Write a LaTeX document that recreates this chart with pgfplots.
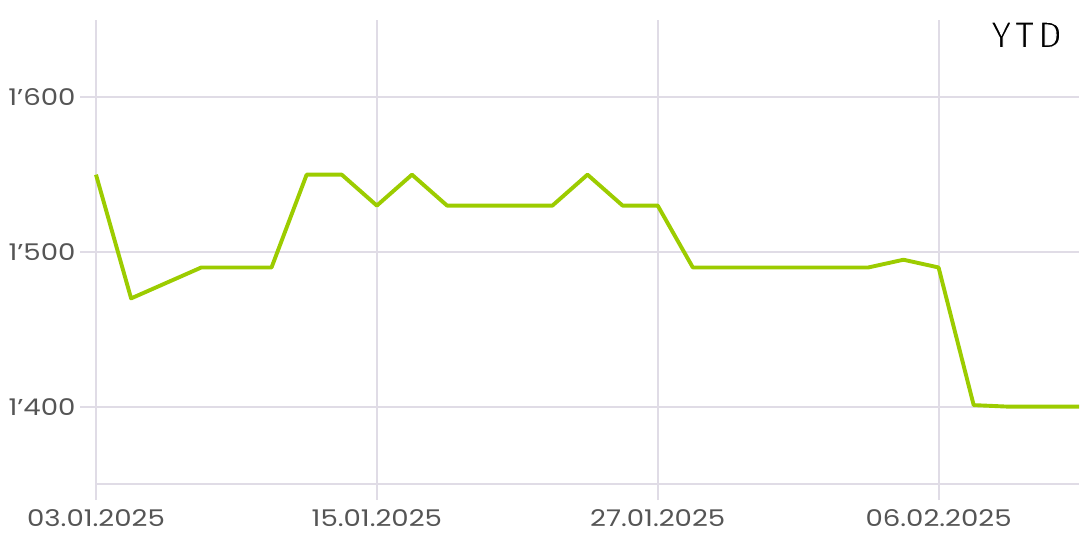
\documentclass[border=0pt]{standalone}
\usepackage{pgfplots}
\pgfplotsset{compat=1.18}
\usepackage{fontspec}
\setmainfont[FakeStretch=1.2]{Poppins}
\newfontfamily\ytdfont[LetterSpace=10]{Fira Sans}
\definecolor{lime}{HTML}{9CCC00}
\definecolor{gridc}{HTML}{E0DCE6}
\definecolor{labc}{HTML}{555555}
\begin{document}
\begin{tikzpicture}
\begin{axis}[
    at={(0,0)}, anchor=south west,
    scale only axis,
    width=983pt, height=464pt,
    xmin=0, xmax=28,
    ymin=1350, ymax=1650,
    axis lines*=left,
    axis line style={gridc, line width=2pt, -},
    xtick={0,8,16,24},
    xticklabels={03.01.2025, 15.01.2025, 27.01.2025, 06.02.2025},
    ytick={1400,1500,1600},
    xtick pos=bottom, ytick pos=left,
    grid=major,
    major grid style={gridc, line width=2pt},
    xtick align=outside, ytick align=outside,
    major tick length=16pt,
    major tick style={draw=gridc, line width=2pt},
    /pgf/number format/assume math mode=true,
    /pgf/number format/1000 sep={'},
    tick label style={font=\fontsize{23}{26}\selectfont, text=labc},
    yticklabel style={xshift=-1pt},
    xticklabel style={yshift=-6pt},
    clip=false,
]
\addplot[lime, line width=3.9pt, line join=round] coordinates {
(0,1550) (1,1470) (2,1480) (3,1490) (4,1490) (5,1490) (6,1550) (7,1550)
(8,1530) (9,1550) (10,1530) (11,1530) (12,1530) (13,1530) (14,1550)
(15,1530) (16,1530) (17,1490) (18,1490) (19,1490) (20,1490) (21,1490)
(22,1490) (23,1495) (24,1490) (25,1401) (26,1400) (27,1400) (28,1400)
};
\node[anchor=north east, inner sep=0pt, font=\ytdfont\fontsize{37}{40}\selectfont, text=black]
  at (rel axis cs:1,1) [xshift=-17pt, yshift=-2pt]
  {\special{pdf:literal direct 2 Tr 1 1 1 RG 1.1 w}YTD\special{pdf:literal direct 0 Tr}};
\end{axis}
\path[use as bounding box] (-96pt,-60pt) rectangle (990pt,484pt);
\end{tikzpicture}
\end{document}
